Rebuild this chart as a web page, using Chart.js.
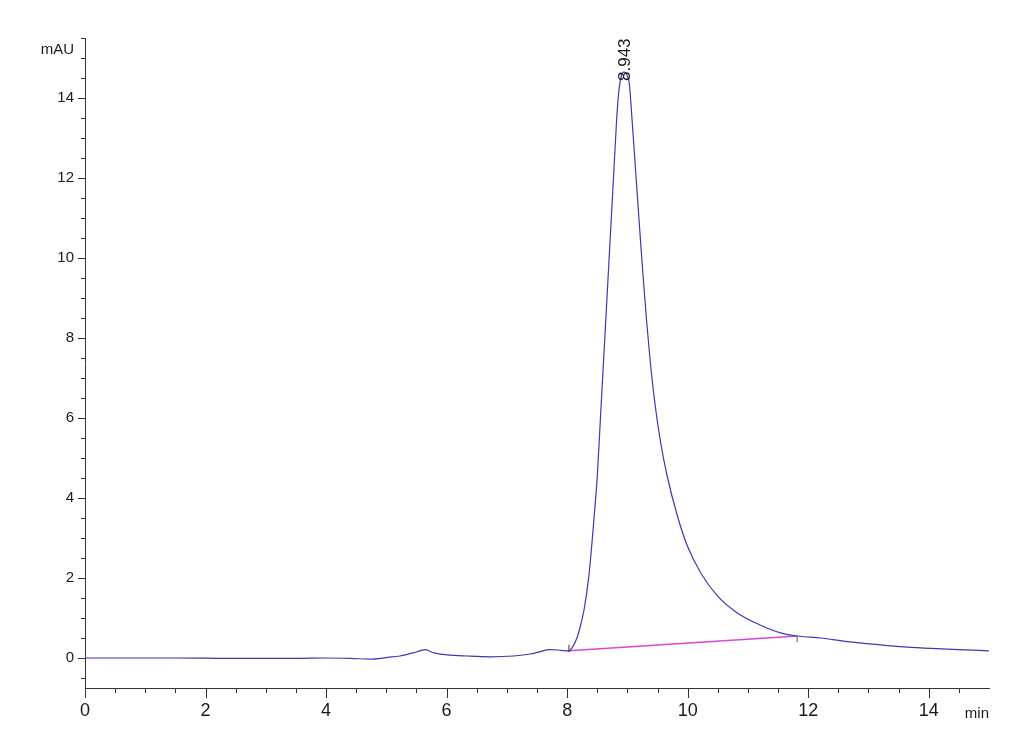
<!DOCTYPE html>
<html>
<head>
<meta charset="utf-8">
<script src="https://cdn.jsdelivr.net/npm/chart.js@4.4.1/dist/chart.umd.min.js"></script>
<style>
  html, body { margin: 0; padding: 0; background: #ffffff; }
  #wrap { width: 1030px; height: 755px; position: relative; }
  canvas { display: block; }
</style>
</head>
<body>
<div id="wrap"><canvas id="c" width="1030" height="755"></canvas></div>
<script>
// ---- data ----
const times = [0, 0.5, 1.0, 1.5, 2.0, 2.5, 3.0, 3.5, 4.0, 4.4, 4.78, 4.9, 5.1, 5.23, 5.45, 5.58, 5.65, 5.72, 5.79, 6.01, 6.34, 6.73, 7.11, 7.39, 7.55, 7.7, 7.85, 7.97, 8.03, 8.1, 8.17, 8.22, 8.28, 8.36, 8.44, 8.50, 8.553, 8.625, 8.697, 8.769, 8.823, 8.86, 8.90, 8.943, 9.0, 9.03, 9.08, 9.14, 9.20, 9.26, 9.32, 9.38, 9.45, 9.55, 9.66, 9.83, 9.99, 10.22, 10.49, 10.83, 11.21, 11.54, 11.82, 12.21, 12.65, 13.2, 13.6, 14.04, 14.5, 15.0];
const mAU   = [0, 0, 0, 0, -0.005, -0.01, -0.01, -0.01, 0, -0.01, -0.03, -0.01, 0.03, 0.05, 0.13, 0.19, 0.21, 0.17, 0.13, 0.08, 0.05, 0.03, 0.05, 0.1, 0.16, 0.21, 0.2, 0.18, 0.18, 0.3, 0.53, 0.8, 1.2, 2.04, 3.38, 4.54, 6.0, 8.0, 10.0, 12.0, 13.5, 14.2, 14.55, 14.65, 14.55, 14.38, 13.4, 12.1, 10.8, 9.55, 8.4, 7.4, 6.45, 5.4, 4.55, 3.55, 2.82, 2.12, 1.56, 1.12, 0.82, 0.63, 0.55, 0.5, 0.41, 0.33, 0.28, 0.24, 0.21, 0.18];
const baselineTimes = [8.03, 11.82];
const baselineValues = [0.18, 0.55];
const startMarkTimes = [8.03, 8.03];
const startMarkValues = [0.15, 0.33];
const endMarkTimes = [11.82, 11.82];
const endMarkValues = [0.55, 0.40];
const peakTime = 8.943;
const peakValue = 14.65;
const peakLabel = "8.943";
const xTickValues = [0, 2, 4, 6, 8, 10, 12, 14];
const yTickValues = [0, 2, 4, 6, 8, 10, 12, 14];
const xUnit = "min";
const yUnit = "mAU";

const ARIAL = "'Liberation Sans', Arial, sans-serif";

const toPts = (xs, ys) => xs.map((x, i) => ({ x: x, y: ys[i] }));

const decorPlugin = {
  id: 'decor',
  afterDraw(chart) {
    const ctx = chart.ctx;
    const xs = chart.scales.x, ys = chart.scales.y;
    const axY = xs.top, axX = ys.right;
    ctx.save();
    ctx.strokeStyle = '#333333';
    ctx.lineWidth = 1;
    // x ticks (major every 2, minor every 0.5)
    for (let i = 0; i <= 29; i++) {
      const v = i * 0.5;
      const px = Math.round(xs.getPixelForValue(v)) + 0.5;
      const len = (v % 2 === 0) ? 10 : 5;
      ctx.beginPath(); ctx.moveTo(px, axY); ctx.lineTo(px, axY + len); ctx.stroke();
    }
    // y ticks
    for (let i = -1; i <= 31; i++) {
      const v = i * 0.5;
      const py = Math.round(ys.getPixelForValue(v)) + 0.5;
      const len = (v % 2 === 0) ? 7 : 4;
      ctx.beginPath(); ctx.moveTo(axX - len, py); ctx.lineTo(axX, py); ctx.stroke();
    }
    // unit labels
    ctx.fillStyle = '#1a1a1a';
    ctx.font = '15px ' + ARIAL;
    ctx.textAlign = 'right';
    ctx.textBaseline = 'middle';
    ctx.fillText(yUnit, axX - 11, ys.top + 12);
    ctx.textBaseline = 'alphabetic';
    ctx.fillText(xUnit, xs.right, axY + 30);
    // peak label (rotated)
    const lx = xs.getPixelForValue(peakTime) + 1;
    const ly = ys.getPixelForValue(peakValue) + 9;
    ctx.translate(lx, ly);
    ctx.rotate(-Math.PI / 2);
    ctx.font = '17px ' + ARIAL;
    ctx.textAlign = 'left';
    ctx.textBaseline = 'middle';
    ctx.fillText(peakLabel, 0, 0);
    ctx.restore();
  }
};

new Chart(document.getElementById('c'), {
  type: 'scatter',
  data: {
    datasets: [
      {
        data: toPts(baselineTimes, baselineValues),
        showLine: true, borderColor: '#d946d9', borderWidth: 1.6,
        pointRadius: 0, fill: false, order: 2
      },
      {
        data: toPts(times, mAU),
        showLine: true, borderColor: '#3a3ab8', borderWidth: 1.2,
        pointRadius: 0, fill: false, cubicInterpolationMode: 'monotone', order: 1
      },
      {
        data: toPts(startMarkTimes, startMarkValues),
        showLine: true, borderColor: '#333333', borderWidth: 1,
        pointRadius: 0, fill: false, order: 0
      },
      {
        data: toPts(endMarkTimes, endMarkValues),
        showLine: true, borderColor: '#888888', borderWidth: 1,
        pointRadius: 0, fill: false, order: 0
      }
    ]
  },
  options: {
    responsive: false,
    animation: false,
    events: [],
    layout: { padding: { top: 38, right: 41, bottom: 0, left: 0 } },
    plugins: { legend: { display: false }, tooltip: { enabled: false }, title: { display: false } },
    scales: {
      x: {
        type: 'linear', min: 0, max: 15,
        afterFit: s => { s.height = 67; },
        afterBuildTicks: s => { s.ticks = xTickValues.map(v => ({ value: v })); },
        grid: { display: true, drawOnChartArea: false, drawTicks: false },
        border: { display: true, color: '#333333', width: 1 },
        ticks: { padding: 12, color: '#1a1a1a', font: { family: ARIAL, size: 18 }, maxRotation: 0, autoSkip: false }
      },
      y: {
        type: 'linear', min: -0.75, max: 15.5,
        afterFit: s => { s.width = 85; },
        afterBuildTicks: s => { s.ticks = yTickValues.map(v => ({ value: v })); },
        grid: { display: true, drawOnChartArea: false, drawTicks: false },
        border: { display: true, color: '#333333', width: 1 },
        ticks: { padding: 11, color: '#1a1a1a', font: { family: ARIAL, size: 15 }, autoSkip: false }
      }
    }
  },
  plugins: [decorPlugin]
});
</script>
</body>
</html>
